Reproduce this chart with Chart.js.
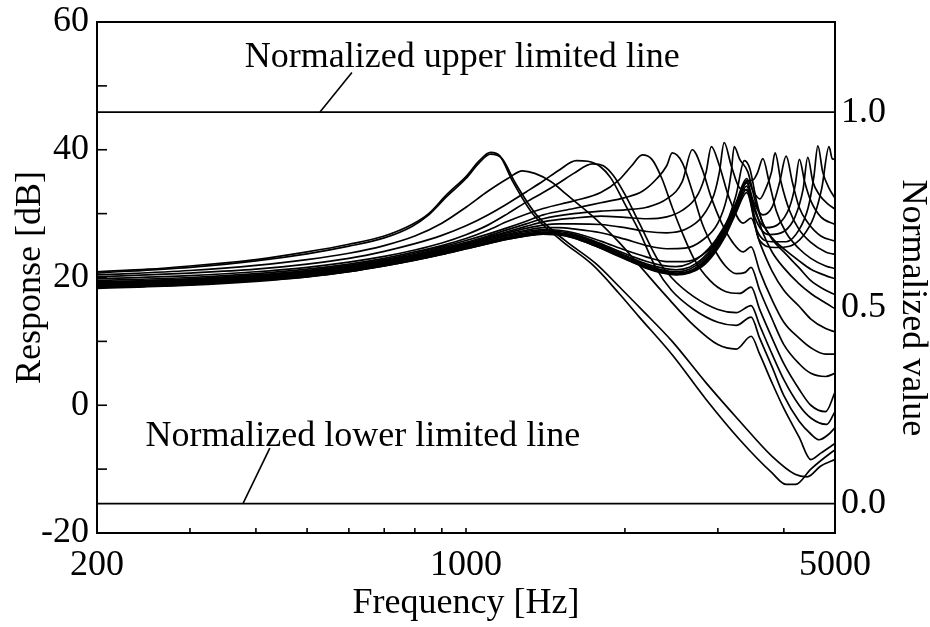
<!DOCTYPE html>
<html><head><meta charset="utf-8">
<script src="https://cdn.jsdelivr.net/npm/chart.js@4.4.0/dist/chart.umd.min.js"></script>
<style>html,body{margin:0;padding:0;background:#fff;}#wrap{width:930px;height:627px;}</style>
</head><body><div id="wrap"><canvas id="c" width="930" height="627"></canvas></div>
<script>
// ---- axis / tick data ----
const xRange = [200, 5000];
const xMajorTicks = [200, 1000, 5000];
const xMinorTicks = [300, 400, 500, 600, 700, 800, 900, 2000, 3000, 4000];
const yRange = [-20, 60];
const yMajorTicks = [-20, 0, 20, 40, 60];
const yMinorTicks = [-10, 10, 30, 50];
const y2Ticks = [0.0, 0.5, 1.0];
const limitLines = [45.9, -15.4]; // upper / lower normalized limit (dB)

// ---- response curves [Hz, dB] ----
const c01 = [[200,20.9],[250,21.3],[300,21.8],[350,22.3],[400,22.8],[500,24],[600,25.2],[700,26.5],[790,28.3],[850,30],[920,33],[1000,35.8],[1060,38.3],[1113,39.6],[1160,39],[1225,35.1],[1340,29.9],[1520,25.7],[1736,22],[1950,17.5],[2130,13.8],[2458,7.9],[2850,0.9],[3300,-5.4],[3800,-10.6],[4040,-12.4],[4210,-12.4],[4500,-10],[4920,-7.4],[5000,-7]];
const c02 = [[200,20.7],[300,21.6],[400,22.6],[500,23.7],[600,24.9],[700,26.2],[790,28],[850,29.8],[920,32.7],[1000,35.5],[1060,38],[1113,39.3],[1170,38.6],[1240,34.8],[1360,29.8],[1540,25.8],[1760,22.2],[1970,18.2],[2150,15],[2458,10],[2850,3.5],[3300,-2.5],[3800,-8],[4200,-10.8],[4428,-11.2],[4700,-9.5],[5000,-8.5]];
const c03 = [[200,20.4],[300,21.1],[400,21.9],[500,22.8],[600,23.8],[700,25],[800,26.5],[900,28.5],[1000,31],[1100,33.5],[1200,35.5],[1279,36.7],[1350,36.3],[1450,35],[1550,33],[1770,29],[1950,25.5],[2150,21.5],[2400,17],[2700,12.5],[3000,9.5],[3250,8.8],[3468,10.8],[3600,8],[3800,3.5],[4000,-0.5],[4276,-5],[4500,-8.5],[4700,-7.5],[5000,-6]];
const c04 = [[200,20.1],[300,20.7],[400,21.3],[500,22.1],[600,23],[700,24.1],[800,25.3],[900,26.6],[1000,28.1],[1100,29.8],[1200,31.6],[1300,33.4],[1400,35.1],[1500,36.8],[1618,38.3],[1700,38.2],[1800,37.3],[1880,35.6],[2000,31.5],[2130,27.2],[2290,21.5],[2450,18],[2700,15],[3000,13],[3250,12.5],[3468,13.8],[3600,10.5],[3800,6],[4000,1.5],[4276,-2.5],[4500,-4.5],[4665,-5.4],[4871,-4.5],[5000,-3.5]];
const c05 = [[200,19.8],[300,20.3],[400,20.9],[500,21.6],[600,22.4],[700,23.3],[800,24.3],[900,25.4],[1000,26.7],[1100,28.2],[1200,30],[1300,31.8],[1400,33.3],[1500,34.8],[1600,36.3],[1736,37.8],[1820,37.5],[1900,36],[2000,33],[2130,28.5],[2300,23],[2450,20],[2700,17],[3000,15],[3250,14.5],[3468,15.6],[3600,12.5],[3800,8],[4000,4],[4276,0],[4500,-2],[4820,-3],[5000,-1]];
const c06 = [[200,19.5],[300,20],[400,20.6],[500,21.3],[600,22.1],[700,23],[800,24],[900,25],[1000,26.1],[1100,27.4],[1200,28.8],[1400,30.8],[1600,32],[1800,33.3],[1950,35.3],[2060,37.5],[2158,39.2],[2250,38.5],[2350,35.5],[2458,31],[2568,27],[2700,23],[2900,19.5],[3100,17.8],[3300,17.5],[3468,18.5],[3600,15],[3800,10.5],[4000,6.5],[4276,2.5],[4500,0],[4800,-1],[5000,2]];
const c07 = [[200,19.3],[300,19.8],[400,20.4],[500,21.1],[600,21.9],[700,22.8],[800,23.8],[900,24.8],[1000,25.8],[1100,26.8],[1200,27.8],[1300,28.8],[1400,29.8],[1600,30.8],[1800,31.7],[2000,32.5],[2158,33.5],[2300,35.5],[2400,37.5],[2458,39.5],[2568,38],[2683,33.5],[2800,28.5],[2950,24.5],[3100,21.8],[3250,20.6],[3380,20.8],[3468,21.6],[3600,18],[3800,13.5],[4000,9.5],[4276,6.5],[4500,5],[4800,4.5],[5000,5]];
const c08 = [[200,19.2],[300,19.7],[400,20.3],[500,21],[600,21.8],[700,22.7],[800,23.6],[900,24.6],[1000,25.5],[1100,26.5],[1200,27.5],[1300,28.4],[1400,29.2],[1600,30],[1800,30.4],[2000,30.6],[2200,31],[2400,32.3],[2568,35],[2683,40],[2800,37],[2915,32.5],[3050,28.5],[3200,25.5],[3350,24],[3468,24.8],[3600,21],[3800,16.5],[4000,13],[4276,10.5],[4500,9],[4800,8],[5000,8]];
const c09 = [[200,19.1],[300,19.6],[400,20.2],[500,20.9],[600,21.7],[700,22.6],[800,23.5],[900,24.4],[1000,25.3],[1100,26.3],[1200,27.2],[1300,28],[1400,28.7],[1600,29.3],[1800,29.6],[2000,29.4],[2200,29.2],[2400,29.5],[2568,30.5],[2750,33],[2850,36.5],[2915,40.5],[3020,37.5],[3150,32.5],[3350,28.5],[3468,29.3],[3600,25.5],[3800,21],[4000,18],[4276,15.5],[4500,13.5],[4800,12],[5000,11.5]];
const c10 = [[200,19],[300,19.5],[400,20.1],[500,20.8],[600,21.6],[700,22.5],[800,23.4],[900,24.3],[1000,25.2],[1100,26.2],[1200,27],[1300,27.7],[1400,28.2],[1500,28.4],[1600,28.4],[1800,28.3],[2000,27.8],[2200,27.2],[2400,27],[2600,27.5],[2800,29.5],[2950,33],[3020,36.5],[3083,41.1],[3180,37.5],[3300,34],[3420,33.5],[3520,31],[3650,27],[3800,24],[4000,21.5],[4276,19],[4500,17.5],[4800,16],[5000,15.1]];
const c11 = [[200,18.9],[300,19.4],[400,20],[500,20.7],[600,21.5],[700,22.4],[800,23.3],[900,24.2],[1000,25.1],[1100,26],[1200,26.8],[1300,27.4],[1400,27.8],[1500,27.8],[1600,27.6],[1800,27],[2000,26],[2200,25],[2400,24.5],[2600,24.6],[2800,25.8],[3000,28.5],[3120,32.5],[3180,36.5],[3221,40.5],[3300,38.5],[3420,36.5],[3530,32],[3650,28.5],[3800,26],[4000,24],[4276,21.5],[4500,19.5],[4800,18],[5000,17.3]];
const c12 = [[200,18.7],[300,19.2],[400,19.8],[500,20.5],[600,21.3],[700,22.2],[800,23.1],[900,24],[1000,24.9],[1100,25.8],[1200,26.6],[1300,27.2],[1400,27.5],[1500,27.4],[1600,27],[1800,25.7],[2000,24.3],[2200,23.2],[2400,22.5],[2600,22.5],[2800,23.5],[3000,26],[3150,29.5],[3250,33],[3366,38.3],[3450,37],[3550,32],[3650,28.5],[3800,26.2],[4040,24.2],[4276,22.6],[4500,21.3],[4800,20.3],[5000,19.8]];
const c13 = [[200,18.8],[300,19.3],[400,19.9],[500,20.6],[600,21.4],[700,22.3],[800,23.2],[900,24.1],[1000,25],[1100,25.8],[1200,26.5],[1300,27],[1400,27.3],[1500,27.2],[1600,26.8],[1750,25.7],[1900,24.5],[2050,23.4],[2200,22.5],[2350,21.9],[2500,21.7],[2650,22.2],[2800,23.5],[2950,25.5],[3100,28.3],[3250,31.5],[3400,35],[3500,35.3],[3570,36.5],[3650,38.6],[3750,35],[3868,30.5],[4040,27],[4276,24.5],[4500,23],[4800,21.8],[5000,21.4]];
const c14 = [[200,18.6],[300,19.1],[400,19.7],[500,20.4],[600,21.2],[700,22.1],[800,23],[900,23.9],[1000,24.8],[1100,25.6],[1200,26.3],[1300,26.8],[1400,27.1],[1500,27],[1600,26.6],[1750,25.5],[1900,24.3],[2050,23.1],[2200,22.1],[2350,21.5],[2500,21.2],[2650,21.6],[2800,22.9],[2950,25],[3100,28],[3250,31.8],[3400,35.5],[3500,33.5],[3600,32.3],[3700,34],[3790,36.5],[3850,39.5],[3950,35],[4100,30.5],[4276,27.5],[4500,25.5],[4800,24],[5000,23.6]];
const c15 = [[200,18.5],[300,19],[400,19.6],[500,20.3],[600,21.1],[700,22],[800,22.9],[900,23.8],[1000,24.7],[1100,25.5],[1200,26.2],[1300,26.7],[1400,27],[1500,26.9],[1600,26.4],[1750,25.3],[1900,24.1],[2050,22.9],[2200,21.9],[2350,21.2],[2500,20.9],[2650,21.3],[2800,22.6],[2950,24.7],[3100,27.7],[3250,31.5],[3400,35.2],[3500,32],[3650,29.8],[3800,31],[3930,35],[4040,39],[4150,35],[4276,31],[4450,28.5],[4700,26.5],[5000,25.7]];
const c16 = [[200,18.4],[300,18.9],[400,19.5],[500,20.2],[600,21],[700,21.9],[800,22.8],[900,23.7],[1000,24.6],[1100,25.4],[1200,26.1],[1300,26.6],[1400,26.9],[1500,26.8],[1600,26.3],[1750,25.1],[1900,23.9],[2050,22.7],[2200,21.7],[2350,21],[2500,20.7],[2650,21],[2800,22.3],[2950,24.4],[3100,27.4],[3250,31.2],[3400,34.8],[3520,30.5],[3700,27.8],[3900,28.3],[4100,31],[4200,34.3],[4280,38.5],[4380,35],[4500,32],[4700,29.5],[5000,28.3]];
const c17 = [[200,18.3],[300,18.8],[400,19.4],[500,20.1],[600,20.9],[700,21.8],[800,22.7],[900,23.6],[1000,24.5],[1100,25.3],[1200,26],[1300,26.5],[1400,26.8],[1500,26.7],[1600,26.2],[1750,25],[1900,23.8],[2050,22.6],[2200,21.6],[2350,20.9],[2500,20.6],[2650,20.9],[2800,22.1],[2950,24.2],[3100,27.1],[3250,30.8],[3400,34.3],[3530,29.3],[3750,26.7],[4000,27.2],[4200,29.5],[4350,33.8],[4440,38.8],[4540,35],[4665,33],[4850,31.5],[5000,30.7]];
const c18 = [[200,18.5],[300,19],[400,19.6],[500,20.2],[600,21],[700,21.9],[800,22.8],[900,23.7],[1000,24.6],[1100,25.4],[1200,26.1],[1300,26.6],[1400,26.9],[1500,26.8],[1600,26.3],[1750,25.1],[1900,23.8],[2050,22.6],[2200,21.5],[2350,20.8],[2500,20.5],[2650,20.8],[2800,21.9],[2950,23.9],[3100,26.8],[3250,30.5],[3400,33.8],[3560,27.3],[3800,25.6],[4040,25.6],[4276,27.5],[4450,31],[4560,35.8],[4640,40.6],[4740,36.5],[4871,34],[5000,32.4]];
const c19 = [[200,18.4],[300,18.9],[400,19.5],[500,20.1],[600,20.9],[700,21.8],[800,22.7],[900,23.6],[1000,24.5],[1100,25.3],[1200,26],[1300,26.5],[1400,26.8],[1500,26.7],[1600,26.2],[1750,25],[1900,23.7],[2050,22.5],[2200,21.4],[2350,20.7],[2500,20.4],[2650,20.7],[2800,21.7],[2950,23.7],[3100,26.5],[3250,30.2],[3400,33.3],[3592,25.9],[3850,24.7],[4100,24.9],[4350,26.5],[4560,29.5],[4720,34],[4871,40.5],[4940,38.6],[5000,38.5]];

// ---- annotation texts & anchors (data space) ----
const upperText = 'Normalized upper limited line';
const lowerText = 'Normalized lower limited line';
const upperTextAt = [381, 53.0];
const upperLeader = [[608, 52.1], [529, 45.9]];
const lowerTextAt = [247, -6.4];
const lowerLeader = [[425, -6.7], [378, -15.4]];

const FONT_FAMILY = '"Liberation Serif", "Times New Roman", serif';
const FS = 36;

const curves = [c01,c02,c03,c04,c05,c06,c07,c08,c09,c10,c11,c12,c13,c14,c15,c16,c17,c18,c19];
const datasets = curves.map(c => ({
  data: c.map(p => ({x: p[0], y: p[1]})),
  borderColor: '#000', borderWidth: 1.7, pointRadius: 0,
  cubicInterpolationMode: 'monotone', fill: false
}));
limitLines.forEach(v => datasets.push({
  data: [{x: xRange[0], y: v}, {x: xRange[1], y: v}],
  borderColor: '#000', borderWidth: 1.8, pointRadius: 0, fill: false
}));

// right axis mapping: 0 at lower limit, 1 at upper limit
const span = limitLines[0] - limitLines[1];
const y2Min = (yRange[0] - limitLines[1]) / span;
const y2Max = (yRange[1] - limitLines[1]) / span;

const decor = {
  id: 'decor',
  afterDatasetsDraw(chart) {
    const {ctx, chartArea: a, scales} = chart;
    const X = v => scales.x.getPixelForValue(v);
    const Y = v => scales.y.getPixelForValue(v);
    ctx.save();
    ctx.strokeStyle = '#000';
    ctx.fillStyle = '#000';
    ctx.lineWidth = 2;
    ctx.strokeRect(a.left, a.top, a.right - a.left, a.bottom - a.top);
    ctx.lineWidth = 1.6;
    yMajorTicks.concat(yMinorTicks).forEach(v => {
      const y = Y(v);
      ctx.beginPath(); ctx.moveTo(a.left, y); ctx.lineTo(a.left + 10, y); ctx.stroke();
    });
    xMajorTicks.concat(xMinorTicks).forEach(v => {
      const x = X(v);
      ctx.beginPath(); ctx.moveTo(x, a.bottom); ctx.lineTo(x, a.bottom - 5); ctx.stroke();
    });
    ctx.lineWidth = 1.6;
    [upperLeader, lowerLeader].forEach(L => {
      ctx.beginPath(); ctx.moveTo(X(L[0][0]), Y(L[0][1])); ctx.lineTo(X(L[1][0]), Y(L[1][1])); ctx.stroke();
    });
    ctx.font = FS + 'px ' + FONT_FAMILY;
    ctx.textAlign = 'left'; ctx.textBaseline = 'alphabetic';
    ctx.fillText(upperText, X(upperTextAt[0]), Y(upperTextAt[1]));
    ctx.fillText(lowerText, X(lowerTextAt[0]), Y(lowerTextAt[1]));
    // right axis title
    ctx.translate(chart.width - 18, scales.y2.getPixelForValue(0.5));
    ctx.rotate(Math.PI / 2);
    ctx.textAlign = 'center'; ctx.textBaseline = 'middle';
    ctx.fillText('Normalized value', 0, 0);
    ctx.restore();
  }
};

const vFit = w => s => { s.width = w; s.paddingTop = 0; s.paddingBottom = 0; };

new Chart(document.getElementById('c'), {
  type: 'line',
  data: {datasets},
  plugins: [decor],
  options: {
    responsive: false, animation: false, devicePixelRatio: 1,
    layout: {padding: {top: 22, left: 0, right: 0, bottom: 0}},
    plugins: {legend: {display: false}, tooltip: {enabled: false}},
    scales: {
      x: {
        type: 'logarithmic', position: 'bottom', min: xRange[0], max: xRange[1],
        grid: {display: false, drawTicks: false}, border: {display: false},
        afterBuildTicks: s => { s.ticks = xMajorTicks.map(v => ({value: v})); },
        afterFit: s => { s.height = 94; s.paddingLeft = 0; s.paddingRight = 0; },
        ticks: {autoSkip: false, maxRotation: 0, padding: 11, color: '#000',
          font: {family: FONT_FAMILY, size: FS}, callback: v => String(v)},
        title: {display: true, text: 'Frequency [Hz]', color: '#000',
          font: {family: FONT_FAMILY, size: FS}, padding: {top: 0, bottom: 2}}
      },
      y: {
        type: 'linear', position: 'left', min: yRange[0], max: yRange[1],
        grid: {display: false, drawTicks: false}, border: {display: false},
        afterBuildTicks: s => { s.ticks = yMajorTicks.map(v => ({value: v})); },
        afterFit: vFit(97),
        ticks: {padding: 8, color: '#000', font: {family: FONT_FAMILY, size: FS}},
        title: {display: true, text: 'Response [dB]', color: '#000',
          font: {family: FONT_FAMILY, size: FS}, padding: {top: 9, bottom: 0}}
      },
      y2: {
        type: 'linear', position: 'right', min: y2Min, max: y2Max,
        grid: {display: false, drawTicks: false}, border: {display: false},
        afterBuildTicks: s => { s.ticks = y2Ticks.map(v => ({value: v})); },
        afterFit: vFit(95),
        ticks: {padding: 6, color: '#000', font: {family: FONT_FAMILY, size: FS},
          callback: v => Number(v).toFixed(1)}
      }
    }
  }
});
</script></body></html>
